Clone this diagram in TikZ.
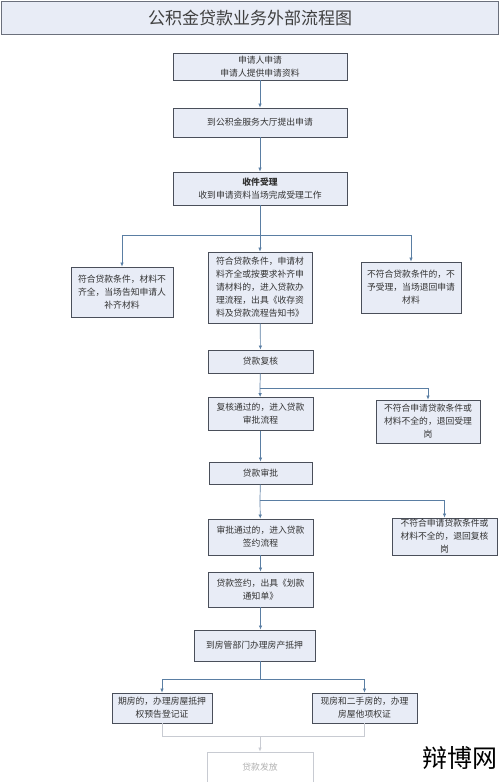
\documentclass[tikz,border=0pt]{standalone}
\usepackage{fontspec}
\newfontfamily\cjk{Noto Sans CJK SC}
\usetikzlibrary{arrows.meta}

\definecolor{boxfill}{HTML}{E8ECF6}
\definecolor{boxline}{HTML}{4A4F5A}
\definecolor{connblue}{HTML}{5A7EA3}
\definecolor{titleline}{HTML}{6B707C}
\definecolor{fadeline}{HTML}{C8CBD2}

\tikzset{
  box/.style={draw=boxline, fill=boxfill, line width=0.9pt, align=center, inner sep=0pt,
    text=black!80, font=\cjk\fontsize{8.8}{13}\selectfont},
  fadebox/.style={box, draw=fadeline, fill=white, text=black!30},
  link/.style={draw=connblue, line width=0.7pt},
  arr/.style={link, -{Latex[length=4pt,width=3.6pt]}},
  fadearr/.style={draw=fadeline, line width=0.7pt, -{Latex[length=4pt,width=3.6pt]}}
}

\begin{document}
\begin{tikzpicture}[x=1pt, y=-1pt]
	\useasboundingbox (0,0) rectangle (500,782);
	% title
	\node[draw=titleline, fill=boxfill, line width=1.4pt, minimum width=497pt, minimum height=33pt,
	      font=\cjk\fontsize{17}{20}\selectfont, text=black!75] (title) at (250,18) {公积金贷款业务外部流程图};
	% main column
	\node[box, minimum width=174pt, minimum height=27pt] (shen) at (260,66.5) {申请人申请\\申请人提供申请资料};
	\node[box, minimum width=174pt, minimum height=29pt] (tijiao) at (260,122.5) {到公积金服务大厅提出申请};
	\node[box, minimum width=174pt, minimum height=33pt] (shouli) at (260,188.5) {\textbf{收件受理}\\收到申请资料当场完成受理工作};
	\node[box, minimum width=102pt, minimum height=50pt] (buqi) at (122,292) {符合贷款条件，材料不\\齐全，当场告知申请人\\补齐材料};
	\node[box, minimum width=104pt, minimum height=71pt] (banli) at (260,287.5) {符合贷款条件，申请材\\料齐全或按要求补齐申\\请材料的，进入贷款办\\理流程，出具《收存资\\料及贷款流程告知书》};
	\node[box, minimum width=100pt, minimum height=51pt] (buyu) at (411,287.5) {不符合贷款条件的，不\\予受理，当场退回申请\\材料};
	\node[box, minimum width=105pt, minimum height=23pt] (fuhe) at (260.5,361.5) {贷款复核};
	\node[box, minimum width=105pt, minimum height=33pt] (fuhetg) at (260.5,414) {复核通过的，进入贷款\\审批流程};
	\node[box, minimum width=104pt, minimum height=43pt] (tuihui1) at (428,421.5) {不符合申请贷款条件或\\材料不全的，退回受理\\岗};
	\node[box, minimum width=103pt, minimum height=22pt] (shenpi) at (260.5,473) {贷款审批};
	\node[box, minimum width=105pt, minimum height=36pt] (shenpitg) at (260.5,537) {审批通过的，进入贷款\\签约流程};
	\node[box, minimum width=105pt, minimum height=37pt] (tuihui2) at (444.5,536.5) {不符合申请贷款条件或\\材料不全的，退回复核\\岗};
	\node[box, minimum width=105pt, minimum height=35pt] (qianyue) at (260.5,589.5) {贷款签约，出具《划款\\通知单》};
	\node[box, minimum width=121pt, minimum height=31pt] (diya) at (254.5,645.5) {到房管部门办理房产抵押};
	\node[box, minimum width=100pt, minimum height=30pt] (qifang) at (162,708) {期房的，办理房屋抵押\\权预告登记证};
	\node[box, minimum width=105pt, minimum height=30pt] (xianfang) at (364.5,708) {现房和二手房的，办理\\房屋他项权证};
	\node[fadebox, minimum width=106pt, minimum height=30pt] (fafang) at (260,767) {贷款发放};
	% junctions
	\coordinate (j1) at (260,235);
	\coordinate (j2) at (260,388);
	\coordinate (j3) at (260,500);
	\coordinate (j4) at (260,679);
	\coordinate (j5) at (260,736);
	% connectors
	\draw[arr] (shen) -- (tijiao);
	\draw[arr] (tijiao) -- (shouli);
	\draw[link] (shouli) -- (j1);
	\draw[arr] (j1) -| (buqi);
	\draw[arr] (j1) -- (banli);
	\draw[arr] (j1) -| (buyu);
	\draw[arr] (banli) -- (fuhe);
	\draw[link] (fuhe) -- (j2);
	\draw[arr] (j2) -- (fuhetg);
	\draw[arr] (j2) -| (tuihui1);
	\draw[arr] (fuhetg) -- (shenpi);
	\draw[link] (shenpi) -- (j3);
	\draw[arr] (j3) -- (shenpitg);
	\draw[arr] (j3) -| (tuihui2);
	\draw[arr] (shenpitg) -- (qianyue);
	\draw[arr] (qianyue.south) -- (qianyue.south |- diya.north);
	\draw[link] (j4 |- diya.south) -- (j4);
	\draw[arr] (j4) -| (qifang);
	\draw[arr] (j4) -| (xianfang);
	\draw[draw=fadeline, line width=0.7pt] (qifang) |- (j5) -| (xianfang);
	\draw[fadearr] (j5) -- (fafang);
	% watermark
	\node[anchor=west, inner sep=0pt, font=\cjk\fontsize{25}{28}\selectfont] (mark) at (422,758) {辩博网};
\end{tikzpicture}
\end{document}
